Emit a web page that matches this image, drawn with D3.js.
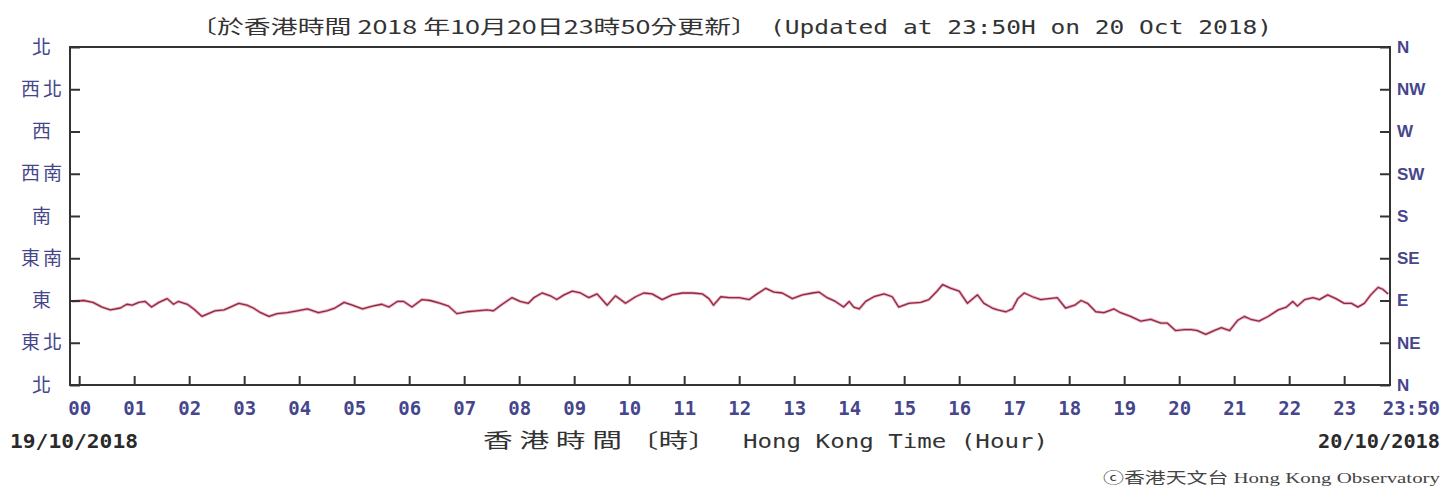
<!DOCTYPE html>
<html><head><meta charset="utf-8">
<script src="https://cdn.jsdelivr.net/npm/d3@7/dist/d3.min.js"></script>
<style>
html,body{margin:0;padding:0;background:#fff;}
svg{display:block;}
</style></head>
<body>
<svg id="chart" width="1444" height="489"></svg>
<script>
// ---- data ----
const titleZh = "〔於香港時間 2018 年10月20日23時50分更新〕";
const titleEn = "(Updated at 23:50H on 20 Oct 2018)";
const hourTicks = [0,1,2,3,4,5,6,7,8,9,10,11,12,13,14,15,16,17,18,19,20,21,22,23];
const hourLabels = ["00","01","02","03","04","05","06","07","08","09","10","11","12","13","14","15","16","17","18","19","20","21","22","23"];
const endLabel = "23:50";
const dirTicks = [0,45,90,135,180,225,270,315,360];
const dirLabelsZh = ["北","東北","東","東南","南","西南","西","西北","北"];
const dirLabelsEn = ["N","NE","E","SE","S","SW","W","NW","N"];
const startDate = "19/10/2018";
const endDate = "20/10/2018";
const axisTitleZh = "香 港 時 間 〔時〕";
const axisTitleEn = "Hong Kong Time (Hour)";
const credit = "ⓒ香港天文台 Hong Kong Observatory";
// minutes after 00:00 on 20 Oct 2018 (negative = 19 Oct)
const timeMin = [-8,5,15,25,34,45,52,58,65,72,79,87,96,103,108,118,125,134,141,148,158,165,174,183,190,198,207,216,227,238,249,261,270,279,289,298,309,320,330,338,347,354,363,374,383,394,403,412,423,434,445,452,460,472,481,490,
496,505,514,521,529,538,547,556,565,576,585,596,607,616,625,636,647,658,669,680,687,692,700,709,720,731,738,749,758,767,778,789,800,807,816,825,834,840,845,851,858,867,878,887,894,905,918,927,935,942,951,960,969,980,987,996,
1002,1011,1018,1024,1031,1040,1049,1058,1067,1076,1086,1093,1100,1109,1118,1129,1136,1147,1158,1169,1180,1187,1196,1206,1213,1220,1229,1238,1246,1255,1264,1271,1278,1287,1297,1308,1317,1324,1329,1337,1346,1353,1362,1371,1380,1388,1395,1402,1409,1417,1422,1428];
// wind direction, degrees
const windDir = [89,90,88,83,80,82,86,85,88,89,83,88,92,86,89,86,81,73,76,79,80,83,87,85,82,77,73,76,77,79,81,77,79,82,88,85,81,84,86,83,89,89,83,91,90,87,84,76,78,79,80,79,85,93,89,87,
93,98,95,91,96,100,98,93,97,85,95,87,94,98,97,91,96,98,98,97,92,85,94,93,93,91,96,103,99,98,92,96,98,99,93,89,83,89,83,81,89,94,97,94,83,87,88,91,99,107,103,100,87,96,87,82,
80,78,81,92,98,94,91,92,93,82,85,90,87,78,77,81,77,73,68,70,66,66,58,59,59,58,54,58,61,58,69,73,70,68,73,80,83,89,84,91,93,91,96,92,87,87,83,87,96,104,102,97];

// ---- layout ----
const svg = d3.select("#chart");
const L = 70, R = 1390, T = 47, B = 385;
const x = d3.scaleLinear().domain([-10, 1430]).range([L, R]);
const y = d3.scaleLinear().domain([0, 360]).range([B, T]);
const axisColor = "#333";
const labelBlue = "#46468c";
const cjk = "'Noto Sans CJK TC','Noto Sans CJK SC',sans-serif";
const mono = "'DejaVu Sans Mono','Liberation Mono',monospace";

// title
svg.append("text").attr("x",190).attr("y",34).attr("font-family",cjk).attr("font-size",19)
  .attr("fill","#333").attr("textLength",568).attr("lengthAdjust","spacingAndGlyphs").text(titleZh);
svg.append("text").attr("x",770).attr("y",34).attr("font-family",mono).attr("font-size",20)
  .attr("fill","#333").attr("textLength",502).attr("lengthAdjust","spacingAndGlyphs").text(titleEn);

// line
const pts = timeMin.map((t,i)=>[t, windDir[i]]);
const line = d3.line().x(d=>x(d[0])).y(d=>y(d[1]));
svg.append("path").datum(pts).attr("d",line).attr("fill","none")
  .attr("stroke","#e48aa0").attr("stroke-width",3).attr("stroke-opacity",0.7).attr("stroke-linejoin","round");
svg.append("path").datum(pts).attr("d",line).attr("fill","none")
  .attr("stroke","#8c2a44").attr("stroke-width",1.3).attr("stroke-linejoin","round");

// bottom axis
const xAxis = d3.axisBottom(x).tickValues(hourTicks.map(h=>h*60)).tickSize(-9).tickPadding(16.5)
  .tickFormat((d,i)=>hourLabels[i]);
const gx = svg.append("g").attr("transform",`translate(0,${B})`).call(xAxis);
gx.select(".domain").remove();
gx.selectAll(".tick line").attr("stroke",axisColor).attr("stroke-width",2);
gx.selectAll(".tick text").attr("font-family",mono).attr("font-weight","bold").attr("font-size",19).attr("fill",labelBlue);
svg.append("text").attr("x",1440).attr("y",415).attr("text-anchor","end").attr("font-family",mono)
  .attr("font-weight","bold").attr("font-size",19).attr("fill",labelBlue).text(endLabel);

// left axis
const yAxisL = d3.axisLeft(y).tickValues(dirTicks).tickSize(-10).tickFormat((d,i)=>dirLabelsZh[i]);
const gl = svg.append("g").attr("transform",`translate(${L},0)`).call(yAxisL);
gl.select(".domain").remove();
gl.selectAll(".tick line").attr("stroke",axisColor).attr("stroke-width",2);
gl.selectAll(".tick text").attr("x",-27).attr("text-anchor","middle").attr("font-family",cjk)
  .attr("font-size",19).attr("letter-spacing",3).attr("fill",labelBlue);

// right axis
const yAxisR = d3.axisRight(y).tickValues(dirTicks).tickSize(-10).tickPadding(7).tickFormat((d,i)=>dirLabelsEn[i]);
const gr = svg.append("g").attr("transform",`translate(${R},0)`).call(yAxisR);
gr.select(".domain").remove();
gr.selectAll(".tick line").attr("stroke",axisColor).attr("stroke-width",2);
gr.selectAll(".tick text").attr("font-family","'Liberation Sans',Arial,sans-serif").attr("font-weight","bold")
  .attr("font-size",17).attr("fill",labelBlue);

// frame
svg.append("rect").attr("x",L).attr("y",T).attr("width",R-L).attr("height",B-T)
  .attr("fill","none").attr("stroke",axisColor).attr("stroke-width",2);

// dates
svg.append("text").attr("x",10).attr("y",448).attr("font-family",mono).attr("font-weight","bold")
  .attr("font-size",19).attr("fill","#2a2a2a").attr("textLength",128).attr("lengthAdjust","spacingAndGlyphs").text(startDate);
svg.append("text").attr("x",1318).attr("y",448).attr("font-family",mono).attr("font-weight","bold")
  .attr("font-size",19).attr("fill","#2a2a2a").attr("textLength",122).attr("lengthAdjust","spacingAndGlyphs").text(endDate);

// axis title
svg.append("text").attr("x",483).attr("y",448).attr("font-family",cjk).attr("font-size",20)
  .attr("fill","#333").attr("textLength",235).attr("lengthAdjust","spacingAndGlyphs").text(axisTitleZh);
svg.append("text").attr("x",743).attr("y",448).attr("font-family",mono).attr("font-size",20)
  .attr("fill","#333").attr("textLength",305).attr("lengthAdjust","spacingAndGlyphs").text(axisTitleEn);

// credit
svg.append("text").attr("x",1103).attr("y",483).attr("font-family","'Liberation Serif',"+cjk).attr("font-size",15)
  .attr("fill","#444").attr("textLength",337).attr("lengthAdjust","spacingAndGlyphs").text(credit);
</script>
</body></html>
